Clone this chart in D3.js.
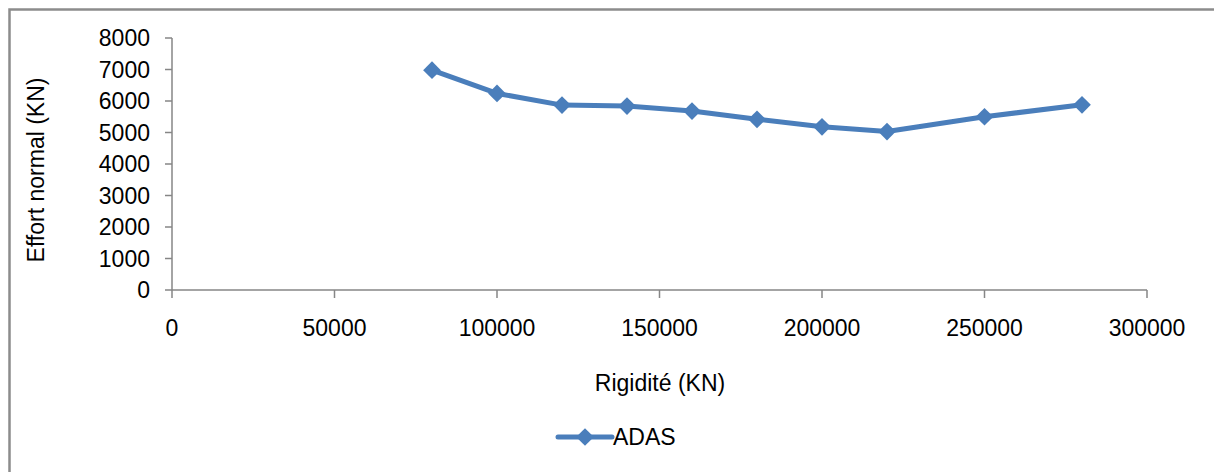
<!DOCTYPE html>
<html>
<head>
<meta charset="utf-8">
<script src="https://cdn.jsdelivr.net/npm/d3@7"></script>
<style>
  html, body { margin: 0; padding: 0; background: #fff; }
  svg { display: block; }
  text { font-family: "Liberation Sans", Arial, sans-serif; fill: #000; }
</style>
</head>
<body>
<svg id="chart" width="1214" height="472"></svg>
<script>
const rigidite = [80000, 100000, 120000, 140000, 160000, 180000, 200000, 220000, 250000, 280000];
const effortADAS = [6980, 6240, 5870, 5840, 5680, 5420, 5180, 5030, 5500, 5880];
const xTicks = [0, 50000, 100000, 150000, 200000, 250000, 300000];
const yTicks = [0, 1000, 2000, 3000, 4000, 5000, 6000, 7000, 8000];
const seriesName = "ADAS";
const xTitle = "Rigidité (KN)";
const yTitle = "Effort normal (KN)";

const svg = d3.select("#chart");
const blue = "#4a7ebb";
const axisGray = "#868686";

// outer frame
svg.append("rect").attr("x", 9.5).attr("y", 9.5).attr("width", 1230).attr("height", 480)
  .attr("fill", "none").attr("stroke", "#8c8c8c").attr("stroke-width", 2.5);

const x = d3.scaleLinear().domain([0, 300000]).range([172, 1147]);
const y = d3.scaleLinear().domain([0, 8000]).range([290, 38]);

// y axis
svg.append("line").attr("x1", x(0)).attr("x2", x(0)).attr("y1", y(8000)).attr("y2", y(0))
  .attr("stroke", axisGray).attr("stroke-width", 1.5);
svg.selectAll(".ytick").data(yTicks).enter().append("line")
  .attr("x1", x(0) - 7).attr("x2", x(0)).attr("y1", d => y(d)).attr("y2", d => y(d))
  .attr("stroke", axisGray).attr("stroke-width", 1.5);
svg.selectAll(".ylab").data(yTicks).enter().append("text")
  .attr("x", x(0) - 22).attr("y", d => y(d)).attr("dy", "0.36em")
  .attr("text-anchor", "end").attr("font-size", 23).text(d => d);

// x axis
svg.append("line").attr("x1", x(0)).attr("x2", x(300000)).attr("y1", y(0)).attr("y2", y(0))
  .attr("stroke", axisGray).attr("stroke-width", 1.5);
svg.selectAll(".xtick").data(xTicks).enter().append("line")
  .attr("x1", d => x(d)).attr("x2", d => x(d)).attr("y1", y(0)).attr("y2", y(0) + 8)
  .attr("stroke", axisGray).attr("stroke-width", 1.5);
svg.selectAll(".xlab").data(xTicks).enter().append("text")
  .attr("x", d => x(d)).attr("y", y(0) + 38).attr("dy", "0.36em")
  .attr("text-anchor", "middle").attr("font-size", 23).text(d => d);

// titles
svg.append("text").attr("x", 660).attr("y", 383).attr("dy", "0.36em")
  .attr("text-anchor", "middle").attr("font-size", 23).text(xTitle);
svg.append("text").attr("transform", "translate(36,170) rotate(-90)").attr("dy", "0.36em")
  .attr("text-anchor", "middle").attr("font-size", 23).text(yTitle);

// series
const data = rigidite.map((r, i) => [r, effortADAS[i]]);
svg.append("path").datum(data)
  .attr("d", d3.line().x(d => x(d[0])).y(d => y(d[1])))
  .attr("fill", "none").attr("stroke", blue).attr("stroke-width", 5).attr("stroke-linejoin", "round");
const diamond = d3.symbol().type(d3.symbolDiamond2).size(200);
svg.selectAll(".mk").data(data).enter().append("path")
  .attr("d", diamond)
  .attr("transform", d => `translate(${x(d[0])},${y(d[1])})`)
  .attr("fill", blue);

// legend
const ly = 437;
svg.append("line").attr("x1", 558).attr("x2", 612).attr("y1", ly).attr("y2", ly)
  .attr("stroke", blue).attr("stroke-width", 5).attr("stroke-linecap", "round");
svg.append("path").attr("d", diamond).attr("transform", `translate(585,${ly})`).attr("fill", blue);
svg.append("text").attr("x", 613).attr("y", ly).attr("dy", "0.36em").attr("font-size", 23).text(seriesName);
</script>
</body>
</html>
